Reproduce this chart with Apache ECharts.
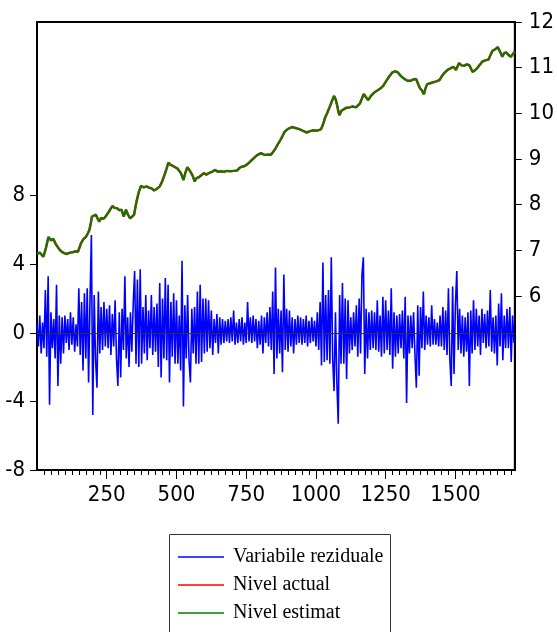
<!DOCTYPE html>
<html>
<head>
<meta charset="utf-8">
<script src="https://cdn.jsdelivr.net/npm/echarts@6/dist/echarts.min.js"></script>
<style>
html,body{margin:0;padding:0;background:#fff;}
#chart{width:557px;height:632px;}
</style>
</head>
<body>
<div id="chart"></div>
<script>
// ---- data ----
const seriesNames = ['Variabile reziduale', 'Nivel actual', 'Nivel estimat'];
const residualStep = 5; // observation spacing of residual readings
const variabileReziduale = [
 0.5,-0.8,1.0,-1.2,0.6,-0.9,2.5,-1.4,3.3,-4.2,
 1.2,-0.9,0.8,-1.5,2.8,-3.1,1.0,-1.8,0.9,-1.2,
 1.0,-0.6,0.8,-1.0,1.2,-0.7,0.9,-1.1,0.5,-0.8,
 2.6,-1.3,1.8,-2.2,2.3,-1.5,2.6,-2.9,1.9,5.7,
 -4.8,2.2,-1.6,-3.2,2.4,-1.2,1.5,-1.0,1.8,-0.8,
 1.4,-0.9,1.6,-1.3,1.1,-0.8,1.9,-1.5,-3.1,1.2,
 -2.6,1.4,-1.0,3.3,-1.5,0.9,-2.0,1.2,-1.1,1.7,
 3.6,-1.8,3.1,-2.0,3.7,-1.8,1.5,-1.2,2.2,-1.6,
 1.3,-0.9,2.2,-1.3,1.5,-1.1,1.7,-2.0,2.9,-2.6,
 2.0,-1.5,3.2,-1.6,2.8,-2.9,1.8,-1.4,2.3,-1.8,
 1.9,-1.8,1.0,-2.2,4.2,-4.3,1.6,-1.5,2.2,-1.6,
 -2.9,1.4,-1.2,1.5,-1.8,2.4,-1.8,2.8,-1.7,2.0,
 -1.2,2.0,-1.1,1.9,-0.9,1.3,-1.3,0.8,-0.6,1.1,
 -1.2,0.9,-0.7,0.8,-0.6,0.7,-0.5,0.8,-0.6,0.9,
 -0.5,1.3,-0.7,0.6,-0.6,0.8,-0.5,0.9,-0.7,0.6,
 -0.6,1.8,-0.5,0.9,-0.6,1.0,-0.5,0.8,-0.9,0.7,
 -0.7,1.0,-1.2,0.9,-0.6,1.2,-0.8,1.5,-1.0,2.4,
 -2.4,3.8,-1.5,1.4,-1.2,1.3,-2.3,3.4,-1.0,1.4,
 -1.1,1.3,-0.8,0.9,-1.2,0.8,-0.7,1.0,-0.6,0.9,
 -0.7,0.8,-0.6,1.0,-0.8,0.7,-0.6,0.9,-0.5,0.7,
 -0.8,1.2,-1.0,1.8,-1.9,4.1,-1.7,2.2,-1.6,2.5,
 -1.8,4.4,-1.5,-3.4,1.2,-2.9,-5.3,2.2,-1.8,2.9,
 -1.8,2.0,-2.7,1.9,-1.2,0.9,-1.0,1.2,-0.8,1.6,
 -1.4,2.0,-1.2,3.4,4.4,-2.4,1.4,-1.5,1.2,-1.0,
 1.3,-0.9,1.2,-1.0,1.9,-1.1,1.0,-1.4,2.1,-1.2,
 1.9,-1.0,1.3,-1.3,2.6,-2.1,1.2,-1.4,1.0,-1.2,
 1.1,-0.9,1.3,-1.5,2.1,-4.1,1.0,-1.2,1.0,-0.9,
 1.2,-1.3,-3.2,1.6,-2.5,1.5,-0.9,2.4,-1.0,1.0,
 -0.7,0.9,-0.8,1.6,-0.7,0.8,-0.7,0.6,-0.8,1.0,
 -0.8,1.5,-1.0,1.3,-1.3,2.6,-1.5,-3.1,2.7,-2.4,
 1.6,3.6,-1.0,1.4,-1.2,1.0,-1.4,0.9,-1.1,1.2,
 -3.1,1.3,-1.2,1.9,-1.0,1.4,-0.8,1.0,-1.3,1.4,
 -0.6,1.1,-0.9,1.3,-0.8,2.5,-1.1,0.9,-1.2,1.0,
 -1.9,1.7,-0.8,2.3,-1.6,1.0,-0.9,1.4,-0.9,1.5,
 -1.7,1.0,-0.6
];
const nivelObs = [
 0,10,23,32,41,50,59,66,73,80,88,97,106,118,129,138,147,158,167,176,183,188,193,197,204,211,217,223,230,238,246,258,270,278,287,295,303,311,319,326,334,341,348,353,358,365,373,383,393,402,410,420,430,440,448,457,464,471,479,487,495,504,510,516,525,532,539,546,553,559,565,572,580,588,598,607,616,627,639,648,657,670,682,692,705,718,725,733,742,751,762,774,788,803,812,821,830,838,846,855,864,873,880,888,900,914,926,938,952,967,979,991,1004,1018,1025,1032,1040,1050,1058,1065,1071,1077,1081,1085,1090,1097,1108,1114,1120,1132,1144,1158,1171,1179,1187,1197,1208,1220,1232,1241,1250,1262,1273,1283,1293,1304,1314,1326,1338,1348,1359,1366,1373,1380,1387,1393,1399,1410,1420,1432,1443,1452,1461,1472,1484,1493,1502,1513,1522,1531,1540,1549,1556,1561,1570,1578,1587,1596,1607,1619,1626,1633,1642,1652,1660,1668,1675,1683,1690,1699,1706,1713
];
const nivelActual = [
 6.92,6.95,6.86,7.05,7.29,7.22,7.25,7.15,7.12,7.02,6.97,6.94,6.92,6.95,6.96,6.98,6.97,7.16,7.25,7.30,7.38,7.45,7.60,7.74,7.70,7.78,7.70,7.63,7.71,7.69,7.74,7.85,7.97,7.93,7.92,7.88,7.89,7.74,7.89,7.78,7.70,7.72,7.78,7.95,8.10,8.28,8.41,8.38,8.40,8.37,8.36,8.31,8.35,8.40,8.50,8.65,8.78,8.92,8.87,8.85,8.82,8.79,8.74,8.69,8.54,8.70,8.82,8.76,8.69,8.62,8.51,8.58,8.60,8.64,8.69,8.66,8.69,8.72,8.76,8.72,8.73,8.72,8.74,8.73,8.74,8.75,8.80,8.83,8.84,8.87,8.93,9.00,9.08,9.13,9.10,9.09,9.10,9.09,9.15,9.23,9.33,9.42,9.50,9.60,9.66,9.70,9.68,9.66,9.62,9.58,9.61,9.63,9.62,9.65,9.75,9.89,10.00,10.15,10.28,10.38,10.30,10.15,10.02,9.96,10.05,10.09,10.12,10.08,10.13,10.15,10.13,10.22,10.42,10.36,10.29,10.38,10.45,10.50,10.55,10.60,10.69,10.80,10.89,10.92,10.90,10.82,10.77,10.72,10.71,10.74,10.75,10.65,10.55,10.50,10.42,10.55,10.64,10.66,10.68,10.70,10.73,10.82,10.89,10.95,10.99,11.02,10.95,11.10,11.05,11.04,11.07,11.06,10.98,10.91,10.94,10.99,11.06,11.13,11.16,11.18,11.28,11.37,11.40,11.45,11.35,11.24,11.32,11.33,11.28,11.24,11.30,11.35
];
const nivelEstimat = [
 6.92,6.95,6.86,7.05,7.29,7.22,7.25,7.15,7.12,7.02,6.97,6.94,6.92,6.95,6.96,6.98,6.97,7.16,7.25,7.30,7.38,7.45,7.60,7.74,7.70,7.78,7.70,7.63,7.71,7.69,7.74,7.85,7.97,7.93,7.92,7.88,7.89,7.74,7.89,7.78,7.70,7.72,7.78,7.95,8.10,8.28,8.41,8.38,8.40,8.37,8.36,8.31,8.35,8.40,8.50,8.65,8.78,8.92,8.87,8.85,8.82,8.79,8.74,8.69,8.54,8.70,8.82,8.76,8.69,8.62,8.51,8.58,8.60,8.64,8.69,8.66,8.69,8.72,8.76,8.72,8.73,8.72,8.74,8.73,8.74,8.75,8.80,8.83,8.84,8.87,8.93,9.00,9.08,9.13,9.10,9.09,9.10,9.09,9.15,9.23,9.33,9.42,9.50,9.60,9.66,9.70,9.68,9.66,9.62,9.58,9.61,9.63,9.62,9.65,9.75,9.89,10.00,10.15,10.28,10.38,10.30,10.15,10.02,9.96,10.05,10.09,10.12,10.08,10.13,10.15,10.13,10.22,10.42,10.36,10.29,10.38,10.45,10.50,10.55,10.60,10.69,10.80,10.89,10.92,10.90,10.82,10.77,10.72,10.71,10.74,10.75,10.65,10.55,10.50,10.42,10.55,10.64,10.66,10.68,10.70,10.73,10.82,10.89,10.95,10.99,11.02,10.95,11.10,11.05,11.04,11.07,11.06,10.98,10.91,10.94,10.99,11.06,11.13,11.16,11.18,11.28,11.37,11.40,11.45,11.35,11.24,11.32,11.33,11.28,11.24,11.30,11.35
];
const xTickLabels = [250, 500, 750, 1000, 1250, 1500];
const leftTickLabels = [-8, -4, 0, 4, 8];
const rightTickLabels = [6, 7, 8, 9, 10, 11, 12];

// ---- build ----
const residPairs = variabileReziduale.map((v, i) => [i * residualStep, v]);
const actualPairs = nivelObs.map((x, i) => [x, nivelActual[i]]);
const estimatPairs = nivelObs.map((x, i) => [x, nivelEstimat[i]]);
const minorTicks = [];
for (let t = 25; t <= 1700; t += 25) if (t % 250 !== 0) minorTicks.push(t);

const axisFont = "'DejaVu Sans Condensed','Liberation Sans',Arial,sans-serif";
const labelStyle = {fontFamily: axisFont, fontSize: 22, color: '#000'};
const chart = echarts.init(document.getElementById('chart'), null, {renderer: 'canvas'});
chart.setOption({
  backgroundColor: '#fff',
  animation: false,
  grid: {left: 37, top: 22, width: 487, height: 448, show: true, borderColor: '#000', borderWidth: 2, backgroundColor: 'transparent'},
  graphic: [{
    type: 'rect', left: 169, top: 534, silent: true, z: -1,
    shape: {width: 221, height: 110},
    style: {fill: '#fff', stroke: '#333', lineWidth: 1}
  }],
  legend: {
    orient: 'vertical', left: 169, top: 534,
    data: seriesNames,
    icon: 'rect',
    itemWidth: 46, itemHeight: 1.6, itemGap: 8,
    padding: [13, 8, 4, 9],
    textStyle: {fontFamily: "'Liberation Serif','Times New Roman',serif", fontSize: 20, color: '#000', padding: [0, 0, 0, 4], lineHeight: 20}
  },
  xAxis: [{
    type: 'value', min: 0, max: 1713,
    axisLine: {show: true, onZero: false, lineStyle: {color: '#000', width: 2}},
    axisTick: {show: true, length: 9, lineStyle: {color: '#000', width: 1}, customValues: xTickLabels},
    axisLabel: Object.assign({show: true, customValues: xTickLabels, margin: 14, formatter: v => String(v)}, labelStyle),
    splitLine: {show: false}
  }, {
    type: 'value', min: 0, max: 1713, position: 'bottom',
    axisLine: {show: false, onZero: false},
    axisTick: {show: true, length: 5, lineStyle: {color: '#000', width: 1}, customValues: minorTicks},
    axisLabel: {show: false},
    splitLine: {show: false}
  }],
  yAxis: [{
    type: 'value', min: -8, max: 18.12, position: 'left',
    axisLine: {show: true, onZero: false, lineStyle: {color: '#000', width: 2}},
    axisTick: {show: true, length: 7, lineStyle: {color: '#000', width: 1}, customValues: leftTickLabels},
    axisLabel: Object.assign({show: true, customValues: leftTickLabels, margin: 12}, labelStyle),
    splitLine: {show: false}
  }, {
    type: 'value', min: 2.19, max: 12, position: 'right',
    axisLine: {show: true, onZero: false, lineStyle: {color: '#000', width: 2}},
    axisTick: {show: true, length: 7, lineStyle: {color: '#000', width: 1}, customValues: rightTickLabels},
    axisLabel: Object.assign({show: true, customValues: rightTickLabels, margin: 14}, labelStyle),
    splitLine: {show: false}
  }],
  series: [
    {type: 'line', xAxisIndex: 0, yAxisIndex: 0, data: [], silent: true, z: 1,
     markLine: {silent: true, symbol: 'none', label: {show: false}, lineStyle: {color: '#333', width: 1, type: 'solid'}, data: [{yAxis: 0}]}},
    {name: seriesNames[0], type: 'line', xAxisIndex: 0, yAxisIndex: 0, data: residPairs, symbol: 'none', z: 2,
     lineStyle: {color: '#0000ff', width: 1.6}, itemStyle: {color: '#0000ff'}},
    {name: seriesNames[1], type: 'line', xAxisIndex: 0, yAxisIndex: 1, data: actualPairs, symbol: 'none', z: 3,
     lineStyle: {color: '#ff0000', width: 2.5}, itemStyle: {color: '#ff0000'}},
    {name: seriesNames[2], type: 'line', xAxisIndex: 0, yAxisIndex: 1, data: estimatPairs, symbol: 'none', z: 4,
     lineStyle: {color: '#008000', width: 2}, itemStyle: {color: '#008000'}}
  ]
});
</script>
</body>
</html>
